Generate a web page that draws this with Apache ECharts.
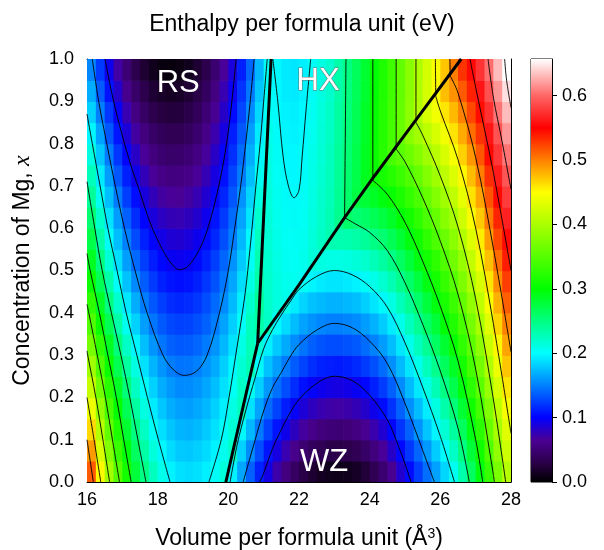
<!DOCTYPE html>
<html><head><meta charset="utf-8">
<script src="https://cdn.jsdelivr.net/npm/echarts@6/dist/echarts.min.js"></script>
<style>html,body{margin:0;padding:0;background:#fff}#c{width:604px;height:550px}</style>
</head><body><div id="c"></div>
<script>
// ---------- data ----------
const volumes = [16.125,16.375,16.625,16.875,17.125,17.375,17.625,17.875,18.125,18.375,18.625,18.875,19.125,19.375,19.625,19.875,20.125,20.375,20.625,20.875,21.125,21.375,21.625,21.875,22.125,22.375,22.625,22.875,23.125,23.375,23.625,23.875,24.125,24.375,24.625,24.875,25.125,25.375,25.625,25.875,26.125,26.375,26.625,26.875,27.125,27.375,27.625,27.875];
const concentrations = [0.025,0.075,0.125,0.175,0.225,0.275,0.325,0.375,0.425,0.475,0.525,0.575,0.625,0.675,0.725,0.775,0.825,0.875,0.925,0.975];
// enthalpy (eV), one row per concentration (bottom to top), one value per volume
const enthalpy = [
[.515,.450,.394,.350,.311,.277,.248,.225,.208,.195,.188,.186,.188,.194,.202,.214,.195,.165,.138,.113,.091,.072,.055,.042,.030,.021,.015,.011,.010,.012,.016,.024,.035,.048,.063,.084,.104,.124,.143,.163,.184,.206,.233,.263,.294,.332,.371,.407],
[.490,.428,.376,.333,.296,.263,.236,.214,.198,.186,.179,.178,.181,.186,.195,.207,.223,.182,.155,.130,.108,.090,.074,.060,.049,.040,.035,.031,.030,.032,.036,.044,.054,.066,.082,.102,.121,.140,.160,.180,.200,.222,.249,.278,.309,.346,.385,.420],
[.465,.407,.358,.317,.281,.250,.224,.203,.188,.177,.171,.170,.173,.179,.188,.201,.217,.199,.172,.147,.125,.108,.093,.079,.068,.060,.054,.051,.050,.052,.056,.063,.073,.085,.100,.120,.138,.157,.177,.196,.217,.238,.264,.293,.324,.361,.398,.433],
[.440,.387,.341,.301,.267,.237,.212,.193,.178,.168,.163,.162,.166,.172,.182,.194,.211,.225,.189,.164,.142,.126,.111,.098,.087,.079,.074,.071,.070,.072,.076,.083,.093,.104,.119,.138,.156,.174,.193,.212,.233,.254,.280,.308,.339,.375,.412,.446],
[.417,.367,.323,.286,.253,.224,.201,.182,.168,.159,.154,.155,.158,.165,.175,.188,.204,.222,.206,.181,.159,.144,.130,.117,.106,.099,.094,.091,.090,.092,.096,.102,.112,.123,.137,.155,.173,.191,.210,.229,.249,.270,.295,.324,.353,.389,.426,.460],
[.394,.346,.305,.269,.238,.211,.188,.171,.158,.149,.145,.146,.150,.157,.167,.181,.197,.217,.230,.198,.176,.162,.148,.136,.126,.118,.113,.111,.110,.112,.116,.122,.131,.142,.156,.173,.190,.208,.227,.245,.265,.286,.311,.339,.368,.403,.440,.473],
[.370,.326,.287,.252,.222,.196,.175,.158,.146,.138,.135,.136,.140,.148,.158,.172,.189,.210,.228,.215,.194,.179,.167,.155,.145,.137,.133,.130,.130,.132,.135,.142,.151,.161,.174,.191,.208,.225,.243,.262,.281,.302,.327,.354,.383,.418,.453,.486],
[.348,.306,.268,.235,.206,.182,.162,.146,.135,.128,.125,.126,.131,.138,.149,.164,.181,.202,.226,.235,.223,.197,.186,.174,.164,.157,.153,.150,.150,.152,.155,.161,.170,.180,.193,.209,.225,.242,.260,.278,.298,.318,.342,.369,.398,.432,.467,.499],
[.326,.286,.250,.219,.191,.168,.149,.134,.124,.117,.115,.117,.121,.130,.141,.155,.173,.194,.219,.240,.221,.213,.208,.193,.183,.176,.173,.170,.170,.172,.175,.181,.190,.199,.211,.227,.242,.259,.277,.294,.314,.334,.358,.385,.412,.446,.481,.513],
[.305,.267,.233,.202,.176,.154,.136,.122,.112,.107,.105,.107,.112,.121,.132,.147,.165,.187,.211,.235,.220,.212,.207,.206,.202,.196,.192,.190,.190,.192,.195,.201,.209,.218,.230,.245,.259,.276,.293,.311,.330,.350,.374,.400,.427,.460,.495,.526],
[.287,.250,.217,.187,.162,.141,.124,.111,.102,.096,.095,.097,.103,.112,.124,.139,.157,.179,.204,.232,.218,.210,.205,.204,.207,.215,.212,.210,.210,.212,.215,.220,.228,.237,.248,.262,.277,.293,.310,.327,.346,.366,.389,.415,.442,.475,.508,.539],
[.272,.235,.203,.174,.150,.129,.112,.100,.091,.086,.085,.088,.094,.103,.115,.131,.149,.172,.197,.225,.217,.209,.204,.203,.206,.214,.223,.231,.230,.232,.235,.240,.248,.256,.267,.280,.294,.309,.327,.344,.362,.381,.405,.430,.457,.489,.522,.552],
[.256,.221,.189,.161,.137,.117,.101,.088,.080,.076,.075,.078,.084,.094,.107,.122,.142,.164,.190,.219,.215,.207,.202,.201,.204,.212,.221,.229,.244,.260,.255,.260,.267,.275,.285,.298,.311,.326,.343,.360,.379,.397,.421,.446,.471,.503,.536,.566],
[.241,.206,.175,.148,.124,.105,.089,.077,.069,.066,.065,.069,.075,.085,.098,.114,.134,.157,.183,.212,.214,.206,.201,.200,.203,.211,.220,.228,.243,.259,.274,.279,.286,.294,.304,.316,.329,.343,.360,.376,.395,.413,.436,.461,.486,.517,.550,.579],
[.227,.192,.161,.134,.112,.093,.077,.066,.059,.055,.056,.059,.066,.076,.090,.106,.126,.149,.175,.205,.212,.204,.199,.198,.201,.209,.218,.226,.241,.257,.272,.288,.305,.313,.322,.334,.346,.360,.376,.393,.411,.429,.452,.476,.501,.532,.563,.592],
[.212,.178,.148,.121,.099,.081,.066,.055,.048,.045,.046,.050,.057,.067,.081,.098,.118,.142,.168,.198,.211,.203,.198,.197,.200,.208,.217,.225,.240,.256,.271,.287,.304,.323,.342,.352,.363,.377,.393,.409,.427,.445,.468,.491,.516,.546,.577,.605],
[.197,.164,.134,.108,.087,.069,.055,.044,.038,.035,.036,.040,.048,.059,.073,.090,.111,.134,.161,.192,.209,.201,.196,.195,.198,.206,.215,.223,.238,.254,.269,.285,.302,.321,.340,.361,.381,.394,.410,.426,.443,.461,.483,.507,.530,.560,.591,.619],
[.182,.150,.121,.096,.074,.057,.043,.033,.027,.025,.026,.031,.039,.050,.064,.082,.103,.127,.154,.185,.205,.200,.195,.194,.197,.205,.214,.222,.237,.253,.268,.284,.301,.320,.339,.360,.382,.405,.426,.442,.460,.477,.499,.522,.545,.574,.605,.632],
[.168,.136,.107,.083,.062,.045,.032,.022,.017,.015,.017,.022,.030,.041,.056,.074,.095,.120,.147,.178,.205,.198,.193,.192,.195,.203,.212,.220,.235,.251,.266,.282,.299,.318,.337,.358,.380,.403,.425,.449,.476,.493,.515,.537,.560,.589,.618,.645],
[.153,.122,.094,.070,.050,.033,.021,.012,.006,.005,.007,.012,.021,.033,.048,.066,.088,.112,.140,.172,.204,.197,.192,.191,.194,.202,.211,.219,.234,.250,.265,.281,.298,.317,.336,.357,.379,.402,.424,.448,.473,.501,.530,.552,.575,.603,.632,.658]
];
const volumeTicks = [16,18,20,22,24,26,28];
const colorbarTicks = [0,0.1,0.2,0.3,0.4,0.5,0.6];
const E_MAX = 0.657;
// contour lines (volume, x)
const contoursRS = [
 [[16.51,1.0],[16.7,0.92],[16.91,0.847],[17.2,0.76],[17.48,0.69],[17.8,0.61],[18.14,0.549],[18.4,0.515],[18.61,0.502],[18.86,0.51],[19.18,0.55],[19.42,0.6],[19.73,0.7],[19.95,0.8],[20.1,0.9],[20.22,1.0]],
 [[16.15,1.0],[16.33,0.9],[16.56,0.8],[16.8,0.7],[17.06,0.6],[17.36,0.5],[17.7,0.4],[18.15,0.3],[18.45,0.265],[18.75,0.252],[19.1,0.262],[19.4,0.3],[19.75,0.4],[20.0,0.5],[20.18,0.6],[20.35,0.7],[20.49,0.8],[20.62,0.9],[20.73,1.0]],
 [[16.0,0.87],[16.15,0.8],[16.37,0.7],[16.59,0.6],[16.85,0.5],[17.11,0.4],[17.41,0.3],[17.71,0.2],[18.02,0.1],[18.35,0.0]],
 [[19.45,0.0],[19.8,0.1],[20.02,0.2],[20.21,0.3],[20.45,0.43],[20.55,0.5],[20.67,0.6],[20.78,0.7],[20.9,0.8],[21.0,0.9],[21.1,1.0]],
 [[17.67,0],[17.44,0.1],[17.21,0.2],[16.96,0.3],[16.69,0.4],[16.43,0.5],[16.22,0.6],[16.0,0.71]],
 [[17.25,0],[17.04,0.1],[16.83,0.2],[16.59,0.3],[16.35,0.4],[16.09,0.5],[16.0,0.54]],
 [[16.92,0],[16.72,0.1],[16.52,0.2],[16.29,0.3],[16.05,0.4],[16.0,0.42]],
 [[16.64,0],[16.45,0.1],[16.25,0.2],[16.02,0.3],[16.0,0.31]],
 [[16.39,0],[16.2,0.1],[16.0,0.2]],
 [[16.18,0],[16.0,0.1]]
];
const contoursWZ = [
 [[20.89,0],[21.0,0.021],[21.25,0.079],[21.5,0.124],[21.75,0.164],[22.0,0.195],[22.5,0.233],[23.0,0.25],[23.5,0.24],[24.0,0.205],[24.5,0.147],[24.75,0.099],[25.0,0.043],[25.17,0]],
 [[20.42,0],[20.75,0.097],[21.0,0.168],[21.25,0.223],[21.5,0.259],[21.75,0.296],[22.0,0.325],[22.5,0.359],[23.0,0.375],[23.5,0.365],[24.0,0.333],[24.5,0.28],[25.0,0.186],[25.5,0.075],[25.83,0]],
 [[20.05,0],[20.25,0.088],[20.5,0.171],[20.75,0.244],[21.0,0.315],[21.25,0.36],[21.5,0.395],[21.78,0.43],[22.0,0.455],[22.5,0.486],[23.0,0.5],[23.5,0.49],[24.0,0.462],[24.5,0.413],[25.0,0.329],[25.5,0.224],[26.0,0.108],[26.4,0]],
 [[23.29,0.625],[23.6,0.61],[24.0,0.59],[24.5,0.547],[25.0,0.471],[25.5,0.373],[26.0,0.262],[26.5,0.127],[26.82,0]],
 [[24.09,0.713],[24.5,0.68],[25.0,0.614],[25.5,0.522],[26.0,0.415],[26.5,0.286],[27.0,0.1],[27.2,0]],
 [[24.75,0.787],[25.0,0.757],[25.5,0.672],[26.0,0.569],[26.5,0.444],[27.0,0.267],[27.5,0.018],[27.53,0]],
 [[25.31,0.85],[25.5,0.82],[26.0,0.723],[26.5,0.603],[27.0,0.433],[27.5,0.196],[27.85,0]],
 [[25.87,0.912],[26.0,0.877],[26.5,0.762],[27.0,0.6],[27.5,0.375],[28.0,0.115]],
 [[26.28,0.96],[26.5,0.92],[27.0,0.767],[27.5,0.553],[28.0,0.308]],
 [[26.84,1.0],[27.0,0.933],[27.5,0.732],[28.0,0.5]],
 [[27.35,1.0],[27.5,0.91],[27.75,0.804],[28.0,0.692]],
 [[27.82,1.0],[27.875,0.95],[28.0,0.885]]
];
const contoursHX = [
 [[21.26,1.0],[21.4,0.9],[21.55,0.77],[21.7,0.7],[21.86,0.672],[22.0,0.69],[22.09,0.77],[22.2,0.88],[22.33,1.0]],
 [[23.29,0.625],[23.33,1.0]],
 [[24.09,0.713],[24.09,1.0]],
 [[24.75,0.787],[24.75,1.0]],
 [[25.31,0.85],[25.31,1.0]],
 [[25.87,0.912],[25.86,1.0]],
 [[26.28,0.96],[26.27,1.0]]
];
const boundaries = [
 [[19.93,0],[20.83,0.328]],
 [[20.83,0.328],[21.21,1.0]],
 [[20.83,0.328],[22.0,0.466],[23.29,0.625],[24.14,0.724],[25.3,0.855],[26.59,1.0]]
];
const phaseNames = ['RS','HX','WZ'];
const phaseLabelPos = [[18.58,0.942],[22.54,0.947],[22.71,0.047]];

// ---------- colour map ----------
const cmapStops = [[0,'#000000'],[0.03,'#2a0048'],[0.065,'#4b0095'],[0.1,'#0000ff'],[0.15,'#0080ff'],[0.2,'#00ffff'],[0.25,'#00ff80'],[0.3,'#00ff00'],[0.375,'#80ff00'],[0.45,'#ffff00'],[0.5,'#ff8000'],[0.55,'#ff0000'],[0.6,'#ff6666'],[0.657,'#ffffff']];
function hx(c){return [parseInt(c.slice(1,3),16),parseInt(c.slice(3,5),16),parseInt(c.slice(5,7),16)];}
function cmap(v){
  for(let k=0;k<cmapStops.length-1;k++){
    const [a,ca]=cmapStops[k],[b,cb]=cmapStops[k+1];
    if(v<=b||k===cmapStops.length-2){
      const t=Math.max(0,Math.min(1,(v-a)/(b-a)));const A=hx(ca),B=hx(cb);
      return 'rgb('+A.map((q,n)=>Math.round(q+(B[n]-q)*t)).join(',')+')';
    }
  }
}
const cmapColors=[];for(let k=0;k<=90;k++)cmapColors.push(cmap(k/90*E_MAX));

// ---------- build ----------
const FONT='Liberation Sans';
const cells=[];
enthalpy.forEach((row,j)=>row.forEach((e,i)=>cells.push([volumes[i],concentrations[j],e])));
const dV=0.125,dX=0.025;

const lineSeries=[];
function addLines(arr,width,smooth){
  arr.forEach(pts=>lineSeries.push({type:'line',xAxisIndex:0,yAxisIndex:0,data:pts,symbol:'none',showSymbol:false,
    smooth:smooth,clip:true,silent:true,z:width>2?5:4,lineStyle:{color:'#000',width:width},animation:false}));
}
addLines(contoursRS,0.9,0.35);
addLines(contoursWZ,0.9,0.35);
addLines(contoursHX,0.9,0.35);
addLines(boundaries,3,false);

const labelData=phaseNames.map((n,k)=>({value:[phaseLabelPos[k][0],phaseLabelPos[k][1]],name:n,
  label:n==='HX'?{textBorderColor:'#6a6a6a',textBorderWidth:1}:{textBorderWidth:0}}));

const tickStyle={color:'#000',width:1};
const chart=echarts.init(document.getElementById('c'),null,{renderer:'canvas'});
chart.setOption({
  animation:false,
  backgroundColor:'#fff',
  title:{text:'Enthalpy per formula unit (eV)',left:'center',top:8,textStyle:{fontSize:23,fontWeight:'normal',color:'#000',fontFamily:FONT}},
  grid:[{left:87,top:59,width:424,height:423,outerBoundsMode:'none',containLabel:false},
        {left:531,top:59,width:21,height:423,outerBoundsMode:'none',containLabel:false,show:true,borderColor:'#000',borderWidth:1,backgroundColor:'transparent'}],
  xAxis:[
    {gridIndex:0,type:'value',min:16,max:28,interval:2,position:'bottom',
     axisLine:{show:true,onZero:false,lineStyle:tickStyle},axisTick:{show:true,inside:true,length:6,lineStyle:tickStyle},
     minorTick:{show:true,splitNumber:2,length:5,lineStyle:tickStyle},splitLine:{show:false},minorSplitLine:{show:false},
     axisLabel:{fontSize:18,color:'#000',margin:9,fontFamily:FONT},
     name:'Volume per formula unit (Å{sup|3})',nameLocation:'middle',nameGap:45,
     nameTextStyle:{fontSize:23,color:'#000',fontFamily:FONT,rich:{sup:{fontSize:14,color:'#000',fontFamily:FONT,verticalAlign:'top',padding:[0,0,10,0]}}}},
    {gridIndex:0,type:'value',min:16,max:28,interval:2,position:'top',
     axisLine:{show:true,onZero:false,lineStyle:tickStyle},axisTick:{show:true,inside:true,length:6,lineStyle:tickStyle},
     minorTick:{show:true,splitNumber:2,length:5,lineStyle:tickStyle},splitLine:{show:false},axisLabel:{show:false}},
    {gridIndex:1,type:'value',min:0,max:1,show:false}
  ],
  yAxis:[
    {gridIndex:0,type:'value',min:0,max:1,interval:0.1,position:'left',
     axisLine:{show:true,onZero:false,lineStyle:tickStyle},axisTick:{show:true,inside:true,length:6,lineStyle:tickStyle},
     minorTick:{show:true,splitNumber:2,length:5,lineStyle:tickStyle},splitLine:{show:false},
     axisLabel:{fontSize:18,color:'#000',margin:13,fontFamily:FONT,formatter:v=>v.toFixed(1)},
     name:'Concentration of Mg, {i|x}',nameLocation:'middle',nameGap:52,
     nameTextStyle:{fontSize:23,color:'#000',fontFamily:FONT,rich:{i:{fontSize:24,fontStyle:'italic',fontFamily:'Liberation Serif',color:'#000'}}}},
    {gridIndex:0,type:'value',min:0,max:1,interval:0.1,position:'right',
     axisLine:{show:true,onZero:false,lineStyle:tickStyle},axisTick:{show:true,inside:true,length:6,lineStyle:tickStyle},
     minorTick:{show:true,splitNumber:2,length:5,lineStyle:tickStyle},splitLine:{show:false},axisLabel:{show:false}},
    {gridIndex:1,type:'value',min:0,max:E_MAX,position:'right',
     axisLine:{show:true,onZero:false,lineStyle:tickStyle},
     axisTick:{show:true,inside:false,length:5,lineStyle:tickStyle,customValues:colorbarTicks},
     splitLine:{show:false},
     axisLabel:{fontSize:18,color:'#000',margin:10,fontFamily:FONT,customValues:colorbarTicks,formatter:v=>v.toFixed(1)}}
  ],
  visualMap:{type:'continuous',show:false,min:0,max:E_MAX,dimension:2,seriesIndex:0,inRange:{color:cmapColors}},
  series:[
    {type:'custom',xAxisIndex:0,yAxisIndex:0,data:cells,encode:{x:0,y:1},clip:true,silent:true,z:1,
     renderItem:(p,api)=>{
       const v=api.value(0),x=api.value(1);
       const a=api.coord([v-dV,x+dX]),b=api.coord([v+dV,x-dX]);
       return {type:'rect',shape:{x:a[0],y:a[1],width:b[0]-a[0]+0.7,height:b[1]-a[1]+0.7},style:{fill:api.visual('color')}};
     }},
    {type:'custom',xAxisIndex:2,yAxisIndex:2,data:[[0,0]],silent:true,z:1,
     renderItem:(p,api)=>{
       const a=api.coord([0,E_MAX]),b=api.coord([1,0]);
       return {type:'rect',shape:{x:a[0],y:a[1],width:b[0]-a[0],height:b[1]-a[1]},
         style:{fill:new echarts.graphic.LinearGradient(0,1,0,0,cmapStops.map(s=>({offset:s[0]/E_MAX,color:s[1]})))}};
     }},
    ...lineSeries,
    {type:'scatter',xAxisIndex:0,yAxisIndex:0,data:labelData,symbolSize:1,itemStyle:{color:'rgba(0,0,0,0)',opacity:1},silent:true,z:6,
     label:{show:true,position:'inside',formatter:p=>p.name,color:'#ffffff',opacity:1,fontSize:31,fontFamily:FONT}}
  ]
});
</script></body></html>
